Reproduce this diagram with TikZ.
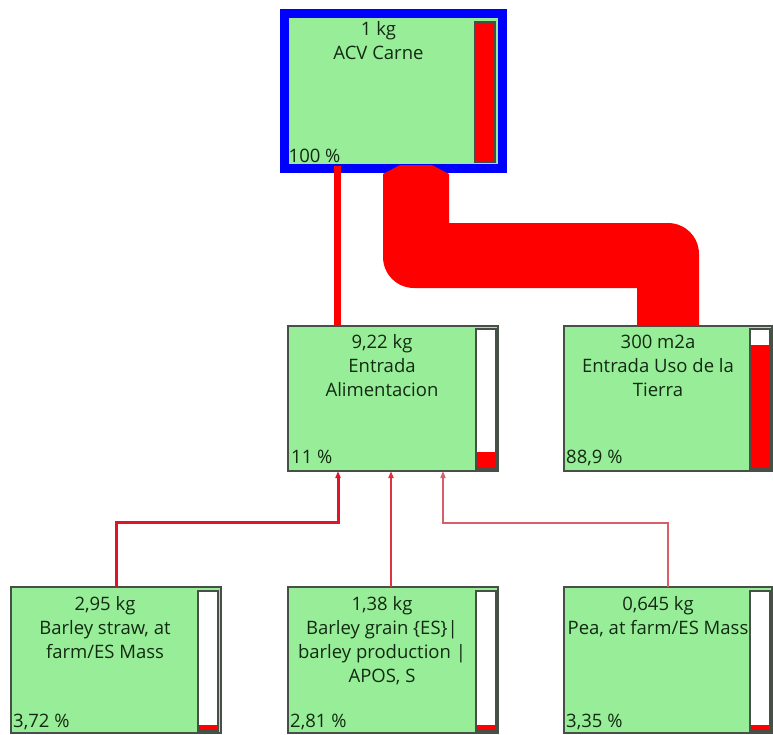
\documentclass[tikz,border=0pt]{standalone}
\usepackage{fontspec}
\setmainfont{Open Sans}
\usetikzlibrary{arrows.meta,calc}
\definecolor{boxgreen}{RGB}{152,238,152}
\definecolor{boxgray}{RGB}{70,80,70}
\definecolor{txt}{RGB}{18,42,18}
\definecolor{flowred}{RGB}{255,0,0}
\definecolor{linkA}{RGB}{222,20,40}
\definecolor{linkB}{RGB}{222,50,65}
\definecolor{linkC}{RGB}{215,95,105}
\begin{document}
\begin{tikzpicture}[x=1pt,y=-1pt,
  lcabox/.style={draw=boxgray, line width=1.5pt, fill=boxgreen, minimum width=210pt, minimum height=146pt, inner sep=0pt, outer sep=0pt},
  topbox/.style={draw=blue, line width=9pt, fill=boxgreen, minimum width=218pt, minimum height=155pt, inner sep=0pt},
  lbl/.style={align=center, anchor=base, inner sep=0pt, text=txt, font=\fontsize{18.5}{24}\selectfont},
  pct/.style={anchor=base west, inner sep=0pt, text=txt, font=\fontsize{18.5}{24}\selectfont},
  barframe/.style={draw=boxgray, line width=2pt, fill=white},
  barfill/.style={fill=flowred},
  link/.style={-{Triangle[length=7pt,width=5pt]}}
]
\useasboundingbox (0,0) rectangle (773,734);
\fill[white] (0,0) rectangle (773,734);

% boxes
\node[topbox] (top) at (393.5,91) {};
\node[lcabox, minimum height=145pt] (alim) at (393,398.5) {};
\node[lcabox, minimum width=208pt, minimum height=145pt] (land) at (668,398.5) {};
\node[lcabox] (straw) at (116,660) {};
\node[lcabox] (grain) at (393,660) {};
\node[lcabox, minimum width=208pt] (pea) at (668,660) {};

% bars
\draw[barframe, fill=flowred] (475,22) rectangle (495,162);
\draw[barframe] (476,329) rectangle (496,469);
\fill[barfill] (477,452) rectangle (495,468);
\draw[barframe] (750,329) rectangle (770,469);
\fill[barfill] (751,345) rectangle (769,468);
\draw[barframe] (198,591) rectangle (218,731);
\fill[barfill] (199,725) rectangle (217,730);
\draw[barframe] (476,591) rectangle (496,731);
\fill[barfill] (477,725) rectangle (495,730);
\draw[barframe] (750,591) rectangle (770,731);
\fill[barfill] (751,725) rectangle (769,730);

% labels (anchor = baseline of the last line)
\node[lbl] (top-t) at ($(top.north west)+(98.5,50)$) {1 kg\\ACV Carne};
\node[pct] (top-p) at ($(top.south west)+(8.5,-11)$) {100 \%};
\node[lbl] (alim-t) at ($(alim.north west)+(94,70)$) {9,22 kg\\Entrada\\Alimentacion};
\node[pct] (alim-p) at ($(alim.south west)+(3,-8)$) {11 \%};
\node[lbl] (land-t) at ($(land.north west)+(94,70)$) {300 m2a\\Entrada Uso de la\\Tierra};
\node[pct] (land-p) at ($(land.south west)+(2,-8)$) {88,9 \%};
\node[lbl] (straw-t) at ($(straw.north west)+(94,71)$) {2,95 kg\\Barley straw, at\\farm/ES Mass};
\node[pct] (straw-p) at ($(straw.south west)+(2,-6)$) {3,72 \%};
\node[lbl] (grain-t) at ($(grain.north west)+(94,95)$) {1,38 kg\\Barley grain \{ES\}|\\barley production |\\APOS, S};
\node[pct] (grain-p) at ($(grain.south west)+(2,-6)$) {2,81 \%};
\node[lbl] (pea-t) at ($(pea.north west)+(94,47)$) {0,645 kg\\Pea, at farm/ES Mass};
\node[pct] (pea-p) at ($(pea.south west)+(2,-6)$) {3,35 \%};

% connectors
\coordinate (kA) at (337.5,166);
\draw[flowred, line width=7pt] (kA) -- (kA |- alim.north);

\fill[flowred] (383,174) -- (400,165) -- (432,165) -- (449,174) -- (449,223)
  -- (668,223) arc[start angle=-90, end angle=0, radius=31]
  -- (699,326) -- (637,326) -- (637,288)
  -- (414,288) arc[start angle=90, end angle=180, radius=31] -- cycle;

\coordinate (k1) at (338,522);
\coordinate (k2) at (391,0);
\coordinate (k3) at (443,523);
\draw[link, linkA, line width=3pt] (straw.north) |- (k1) -- (k1 |- alim.south);
\draw[link, linkB, line width=2pt] (k2 |- grain.north) -- (k2 |- alim.south);
\draw[link, linkC, line width=1.5pt] (pea.north) |- (k3) -- (k3 |- alim.south);
\end{tikzpicture}
\end{document}
